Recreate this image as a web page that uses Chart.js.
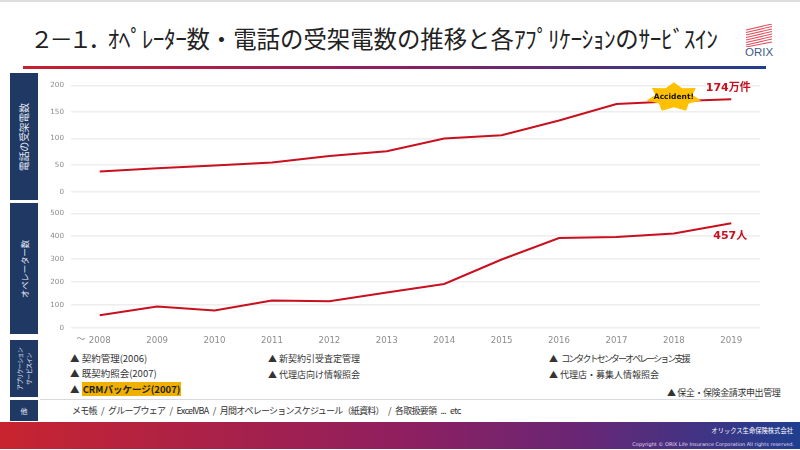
<!DOCTYPE html>
<html lang="ja">
<head>
<meta charset="utf-8">
<script src="https://cdn.jsdelivr.net/npm/chart.js@4"></script>
<style>
  html, body { margin: 0; padding: 0; background: #fff; }
  body { width: 800px; height: 450px; position: relative; overflow: hidden; font-family: "Noto Sans CJK JP", sans-serif; color: #333; }
  .abs { position: absolute; white-space: nowrap; }
  canvas { position: absolute; }
  #topStrip { left: 0; top: 0; width: 800px; height: 2px; background: #dedede; }
  #title { left: 30px; top: 21px; font-size: 23.4px; line-height: 34px; color: #222; }
  #title i { font-style: normal; letter-spacing: -0.5px; }
  #title em { font-style: normal; letter-spacing: -4px; }
  #rule { left: 23px; top: 66px; width: 743px; height: 3px; background: linear-gradient(90deg, #c8202f, #8c2060 50%, #1f3f8f); }
  .side { position: absolute; left: 10px; width: 28px; background: #1f3864; color: #e8ecf4; display: flex; align-items: center; justify-content: center; }
  .side span { transform: rotate(-90deg); white-space: nowrap; font-size: 9px; line-height: 10px; text-align: center; }
  .item { font-size: 9.5px; line-height: 14px; color: #333; }
  .item b { background: #f0b000; color: #222; padding: 0 1px; }
  .tri { letter-spacing: 0; margin-right: 3px; }
  #sep { left: 40px; top: 399px; width: 718px; height: 1px; background: #d9d9d9; }
  #footer { left: 0; top: 422px; width: 800px; height: 27px; background: linear-gradient(90deg, #c8242f, #8f1f5f 50%, #6a2675 72%, #1f3f8f); }
  #company { right: 7px; top: 425px; font-size: 6.3px; line-height: 12px; color: #fff; }
  #copy { right: 6px; top: 440px; font-size: 5px; line-height: 8px; color: #e6dcf0; font-family: "DejaVu Sans", sans-serif; }
  #logoText { left: 745px; top: 47px; font-family: "Liberation Sans", sans-serif; font-size: 11.5px; line-height: 11px; color: #3f5b85; }
</style>
</head>
<body>
<div class="abs" id="topStrip"></div>
<div class="abs" id="title"><em>２－１．</em><i>ｵﾍﾟﾚｰﾀｰ</i>数・電話の受架電数の推移と各<i>ｱﾌﾟﾘｹｰｼｮﾝ</i>の<i>ｻｰﾋﾞｽｲﾝ</i></div>
<div class="abs" id="rule"></div>
<svg class="abs" style="left:745px;top:24px" width="28" height="23" viewBox="0 0 28 23">
  <g stroke="#e0505f" stroke-width="1.1" fill="none">
    <path d="M1 6 L27 0"/><path d="M1 8.5 L27 2.5"/><path d="M1 11 L27 5"/><path d="M1 13.5 L27 7.5"/>
    <path d="M1 16 L27 10"/><path d="M1 18.5 L27 12.5"/><path d="M1 21 L27 15"/><path d="M1 23 L27 18"/>
  </g>
</svg>
<div class="abs" id="logoText">ORIX</div>

<div class="side" style="top:73px;height:127px"><span style="font-size:9.7px">電話の受架電数</span></div>
<div class="side" style="top:203px;height:131px"><span style="font-size:8.3px">オペレーター数</span></div>
<div class="side" style="top:340px;height:57px"><span style="font-size:6px;line-height:9px;letter-spacing:-0.7px">アプリケーション<br>サービスイン</span></div>
<div class="side" style="top:400px;height:21px"><span style="transform:none;font-size:7px">他</span></div>

<canvas id="graficoCalls" style="left:36px;top:74px" width="724" height="129"></canvas>
<canvas id="graficoOperators" style="left:36px;top:202px" width="724" height="144"></canvas>

<div class="abs item" style="left:70px;top:351px">▲ 契約管理(2006)</div>
<div class="abs item" style="left:70px;top:366px">▲ 既契約照会(2007)</div>
<div class="abs item" style="left:70px;top:382px">▲ <b>CRMパッケージ(2007)</b></div>
<div class="abs item" style="left:268px;top:352px;font-size:9px">▲ 新契約引受査定管理</div>
<div class="abs item" style="left:268px;top:368px;font-size:9px">▲ 代理店向け情報照会</div>
<div class="abs item" style="left:549px;top:352px;font-size:9px;letter-spacing:-1.9px"><span class="tri">▲</span> コンタクトセンターオペレーション支援</div>
<div class="abs item" style="left:549px;top:368px;font-size:9px">▲ 代理店・募集人情報照会</div>
<div class="abs item" style="left:667px;top:386px;font-size:9px;letter-spacing:-0.4px">▲ 保全・保険金請求申出管理</div>
<div class="abs" id="sep"></div>
<div class="abs item" id="others" style="left:72px;top:404px;font-size:9px;letter-spacing:-0.75px;word-spacing:3px"></div>
<div class="abs" id="footer"></div>
<div class="abs" id="company">オリックス生命保険株式会社</div>
<div class="abs" id="copy">Copyright ©  ORIX Life Insurance Corporation All rights reserved.</div>

<script>
const years = ["2008", "2009", "2010", "2011", "2012", "2013", "2014", "2015", "2016", "2017", "2018", "2019"]
const callValues = [38, 44, 49, 55, 67, 76, 100, 106, 134, 165, 170, 174]
const operatorValues = [54, 93, 75, 119, 116, 154, 191, 298, 392, 396, 412, 457]
const callTicks = [0, 50, 100, 150, 200]
const operatorTicks = [0, 100, 200, 300, 400, 500]
const callLabel = "174万件"
const operatorLabel = "457人"
const accidentLabel = "Accident!"
const firstYearMark = "～"
const otherTools = "メモ帳 / グループウェア / ExcelVBA / 月間オペレーションスケジュール（紙資料） / 各取扱要領 ... etc"

document.getElementById("others").textContent = otherTools

const lineRed = "#c8101e"
const gridGray = "#eeeeee"
const tickGray = "#8c8c8c"

function fixWidth(scale) { scale.width = 35 }

function baseOptions(ticks, maxValue, showYears) {
  return {
    responsive: false,
    animation: false,
    layout: { padding: 0 },
    plugins: { legend: { display: false }, tooltip: { enabled: false } },
    elements: { point: { radius: 0 }, line: { tension: 0 } },
    scales: {
      x: {
        display: showYears,
        offset: true,
        grid: { display: false },
        border: { display: false },
        ticks: { color: tickGray, font: { family: "DejaVu Sans", size: 8.6 }, maxRotation: 0, padding: 0 }
      },
      y: {
        min: 0,
        max: maxValue,
        afterFit: fixWidth,
        afterBuildTicks: s => { s.ticks = ticks.map(v => ({ value: v })) },
        grid: { color: gridGray, lineWidth: 1.5, drawTicks: false },
        border: { display: false },
        ticks: { color: tickGray, font: { family: "DejaVu Sans", size: 7.2 }, padding: 7 }
      }
    }
  }
}

function dataset(values) {
  return [{ data: values, borderColor: lineRed, borderWidth: 2, fill: false }]
}

// estrela do Accident e rotulo do ultimo ponto
const callMarks = {
  id: "callMarks",
  afterDatasetsDraw(chart) {
    const ctx = chart.ctx
    const cx = chart.scales.x.getPixelForValue(10)
    const cy = chart.scales.y.getPixelForValue(callValues[10]) - 4
    ctx.save()
    ctx.beginPath()
    for (let i = 0; i < 14; i++) {
      const a = -Math.PI / 2 + i * Math.PI / 7
      const rx = i % 2 ? 19 : 28
      const ry = i % 2 ? 10 : 15
      const px = cx + rx * Math.cos(a)
      const py = cy + ry * Math.sin(a)
      if (i == 0) ctx.moveTo(px, py)
      else ctx.lineTo(px, py)
    }
    ctx.closePath()
    ctx.fillStyle = "#ffc000"
    ctx.fill()
    ctx.fillStyle = "#111"
    ctx.font = "bold 7.5px 'DejaVu Sans'"
    ctx.textAlign = "center"
    ctx.textBaseline = "middle"
    ctx.fillText(accidentLabel, cx, cy)
    ctx.fillStyle = lineRed
    ctx.font = "bold 11px 'DejaVu Sans', 'Noto Sans CJK JP'"
    ctx.fillText(callLabel, chart.scales.x.getPixelForValue(11) - 3, chart.scales.y.getPixelForValue(callValues[11]) - 11)
    ctx.restore()
  }
}

const operatorMarks = {
  id: "operatorMarks",
  afterDraw(chart) {
    const ctx = chart.ctx
    ctx.save()
    ctx.fillStyle = lineRed
    ctx.font = "bold 11px 'DejaVu Sans', 'Noto Sans CJK JP'"
    ctx.textAlign = "center"
    ctx.textBaseline = "middle"
    ctx.fillText(operatorLabel, chart.scales.x.getPixelForValue(11) - 1, chart.scales.y.getPixelForValue(operatorValues[11]) + 13)
    const x = chart.scales.x
    ctx.fillStyle = tickGray
    ctx.font = "9px 'Noto Sans CJK JP'"
    ctx.fillText(firstYearMark, x.getPixelForValue(0) - 19, x.top + 11)
    ctx.restore()
  }
}

new Chart(document.getElementById("graficoCalls"), {
  type: "line",
  data: { labels: years, datasets: dataset(callValues) },
  options: baseOptions(callTicks, 200, false),
  plugins: [callMarks]
})

new Chart(document.getElementById("graficoOperators"), {
  type: "line",
  data: { labels: years, datasets: dataset(operatorValues) },
  options: baseOptions(operatorTicks, 500, true),
  plugins: [operatorMarks]
})
</script>
</body>
</html>
